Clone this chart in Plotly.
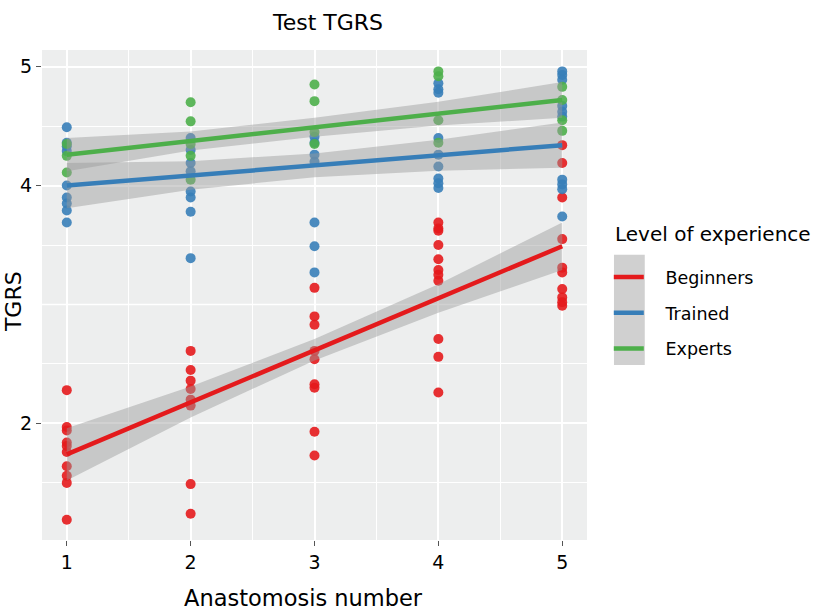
import plotly.graph_objects as go

anastomosis = [1, 2, 3, 4, 5]
groups = ["Beginners", "Trained", "Experts"]
colors = ["#E41A1C", "#377EB8", "#4DAF4A"]

beginners_scores = [
    [2.28, 1.97, 1.94, 1.84, 1.81, 1.76, 1.64, 1.56, 1.50, 1.19],
    [2.61, 2.45, 2.36, 2.29, 2.20, 2.15, 1.49, 1.24],
    [3.14, 2.90, 2.83, 2.61, 2.54, 2.33, 2.30, 1.93, 1.73],
    [3.69, 3.64, 3.62, 3.50, 3.38, 3.29, 3.25, 3.20, 2.71, 2.56, 2.26],
    [4.34, 4.19, 3.90, 3.55, 3.31, 3.27, 3.13, 3.06, 3.02, 2.99],
]
trained_scores = [
    [4.49, 4.36, 4.33, 4.29, 4.00, 3.90, 3.85, 3.79, 3.69],
    [4.40, 4.30, 4.19, 4.12, 3.95, 3.90, 3.78, 3.39],
    [4.41, 4.36, 4.26, 4.20, 3.69, 3.49, 3.27],
    [4.86, 4.81, 4.78, 4.40, 4.26, 4.16, 4.06, 4.02, 3.98],
    [4.96, 4.93, 4.89, 4.67, 4.62, 4.58, 4.05, 4.01, 3.97, 3.74],
]
experts_scores = [
    [4.35, 4.25, 4.11],
    [4.70, 4.54, 4.35, 4.25, 4.05],
    [4.85, 4.71, 4.45, 4.35],
    [4.96, 4.92, 4.55, 4.36],
    [4.83, 4.72, 4.55, 4.46],
]

# fitted linear trend and CI half-width read at each anastomosis number
beginners_fit = [1.74, 2.18, 2.62, 3.05, 3.49]
beginners_ci = [0.22, 0.13, 0.09, 0.12, 0.20]
trained_fit = [4.00, 4.085, 4.17, 4.255, 4.34]
trained_ci = [0.19, 0.12, 0.10, 0.13, 0.19]
experts_fit = [4.26, 4.375, 4.49, 4.605, 4.72]
experts_ci = [0.14, 0.08, 0.08, 0.10, 0.15]

y_ticks = [2, 4, 5]

scores = [beginners_scores, trained_scores, experts_scores]
fits = [beginners_fit, trained_fit, experts_fit]
cis = [beginners_ci, trained_ci, experts_ci]

FONT = "DejaVu Sans, Liberation Sans, Arial, sans-serif"
PAD = "\u00a0\u00a0\u00a0"
fig = go.Figure()

# points
for g, col, sc in zip(groups, colors, scores):
    xs, ys = [], []
    for a, vals in zip(anastomosis, sc):
        xs += [a] * len(vals)
        ys += vals
    fig.add_trace(go.Scatter(x=xs, y=ys, mode="markers",
                             marker=dict(color=col, size=10, opacity=0.9, line=dict(width=0)),
                             showlegend=False, hoverinfo="skip"))

# confidence bands
for g, fit, ci in zip(groups, fits, cis):
    upper = [f + c for f, c in zip(fit, ci)]
    lower = [f - c for f, c in zip(fit, ci)]
    fig.add_trace(go.Scatter(x=anastomosis + anastomosis[::-1], y=upper + lower[::-1],
                             fill="toself", fillcolor="rgba(153,153,153,0.45)",
                             line=dict(width=0), mode="lines",
                             showlegend=False, hoverinfo="skip"))

# fitted lines
for g, col, fit in zip(groups, colors, fits):
    fig.add_trace(go.Scatter(x=anastomosis, y=fit, mode="lines",
                             line=dict(color=col, width=4.5), name=PAD + g,
                             legendgroup=g, showlegend=True))

fig.update_layout(
    width=818, height=614,
    margin=dict(l=42, r=231, t=50, b=74),
    paper_bgcolor="white",
    plot_bgcolor="#EDEEEE",
    font=dict(family=FONT, color="black"),
    title=dict(text="Test TGRS", x=0.401, xanchor="center", y=0.963, yanchor="middle",
               font=dict(size=22, color="black")),
    xaxis=dict(range=[0.8, 5.2], tickvals=anastomosis, showgrid=True, gridcolor="white",
               gridwidth=1.6, zeroline=False, ticks="outside", ticklen=5, tickwidth=1.3,
               tickcolor="#555555", tickfont=dict(size=19, color="black"), automargin=False,
               minor=dict(tickvals=[1.5, 2.5, 3.5, 4.5], showgrid=True, gridcolor="white",
                          gridwidth=0.8, ticks="")),
    yaxis=dict(range=[1.02, 5.14], tickvals=y_ticks, showgrid=True, gridcolor="white",
               gridwidth=1.6, zeroline=False, ticks="outside", ticklen=5, tickwidth=1.3,
               tickcolor="#555555", tickfont=dict(size=19, color="black"), automargin=False,
               minor=dict(tickvals=[1.5, 2.5, 3.5, 4.5], showgrid=True, gridcolor="white",
                          gridwidth=0.8, ticks="")),
    legend=dict(x=1.04, y=0.573, xanchor="left", yanchor="top", bgcolor="rgba(0,0,0,0)",
                font=dict(size=17.5), tracegroupgap=10, itemwidth=30),
    annotations=[
        dict(text="TGRS", xref="paper", yref="paper", x=-0.051, y=0.486, textangle=-90,
             showarrow=False, xanchor="center", yanchor="middle", font=dict(size=22)),
        dict(text="Anastomosis number", xref="paper", yref="paper", x=0.479, y=-0.119,
             showarrow=False, xanchor="center", yanchor="middle", font=dict(size=22.5)),
        dict(text="Level of experience", xref="paper", yref="paper", x=1.047, y=0.625,
             showarrow=False, xanchor="left", yanchor="middle", font=dict(size=20)),
    ],
    shapes=[
        dict(type="line", xref="paper", yref="y", x0=0, x1=1, y0=3, y1=3,
             line=dict(color="white", width=1.6), layer="below"),
        dict(type="rect", xref="paper", yref="paper", x0=1.0495, x1=1.106, y0=0.357, y1=0.582,
             fillcolor="#D0D0D0", line=dict(width=0), layer="below"),
    ],
)

fig.write_html("out.html")
